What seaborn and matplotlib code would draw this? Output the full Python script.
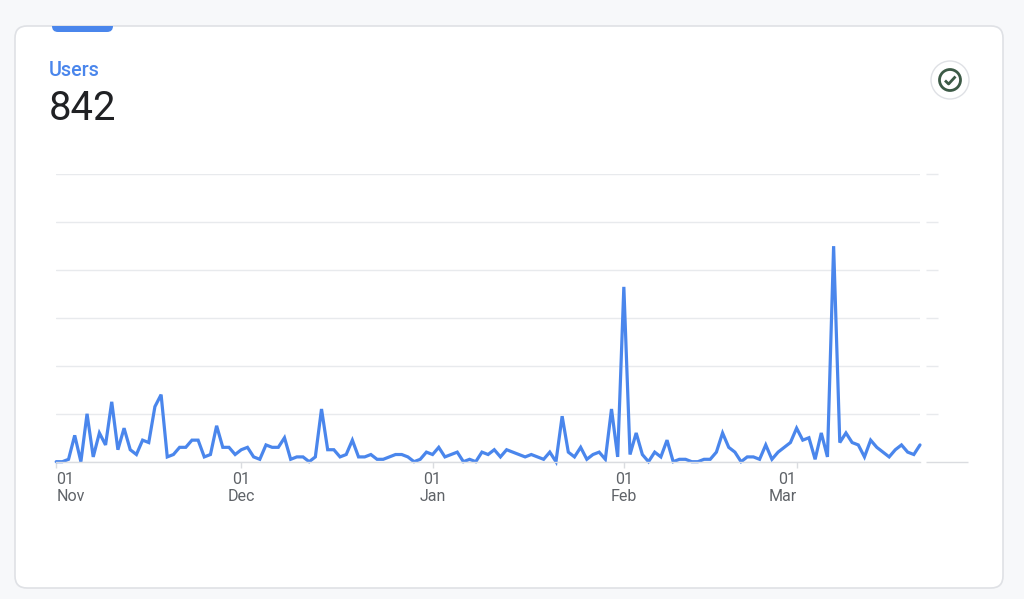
import pandas as pd
import matplotlib
matplotlib.use('Agg')
import matplotlib.pyplot as plt
import matplotlib.dates as mdates
from matplotlib.patches import FancyBboxPatch, Circle, Rectangle
import seaborn as sns

# daily users (one grid step = 20)
users = [0, 0, 1, 11, 0, 20, 2, 12, 7, 25, 5, 14, 5, 3, 9, 8, 23, 28, 2, 3,
         6, 6, 9, 9, 2, 3, 15, 6, 6, 3, 5, 6, 2, 1, 7, 6, 6, 10, 1, 2,
         2, 0, 2, 22, 5, 5, 2, 3, 9, 2, 2, 3, 1, 1, 2, 3, 3, 2, 0, 1,
         4, 3, 6, 2, 3, 4, 0, 1, 0, 4, 3, 5, 2, 5, 4, 3, 2, 3, 2, 1,
         4, 0, 19, 4, 2, 6, 1, 3, 4, 1, 22, 2, 73, 3, 12, 3, 0, 4, 2, 9,
         0, 1, 1, 0, 0, 1, 1, 4, 12, 6, 4, 0, 2, 2, 1, 7, 1, 4, 6, 8,
         14, 9, 10, 1, 12, 2, 90, 8, 12, 8, 7, 2, 9, 6, 4, 2, 5, 7, 4, 3, 7]
start_date = '2022-11-01'
month_ticks = ['2022-11-01', '2022-12-01', '2023-01-01', '2023-02-01', '2023-03-01']
month_labels = ['01\nNov', '01\nDec', '01\nJan', '01\nFeb', '01\nMar']
month_align = ['left', 'center', 'center', 'center', 'right']
grid_values = [0, 20, 40, 60, 80, 100, 120]

df = pd.DataFrame({'date': pd.date_range(start_date, periods=len(users)), 'users': users})

W, H = 1024, 599
BLUE = '#4a86ec'
GREEN = '#3c5a46'

sns.set_theme(style='white')
plt.rcParams['font.family'] = ['Roboto', 'DejaVu Sans']

fig = plt.figure(figsize=(W / 100, H / 100), dpi=100, facecolor='#f7f8fa')

# card and header, laid out in pixels
bg = fig.add_axes([0, 0, 1, 1])
bg.set_xlim(0, W)
bg.set_ylim(H, 0)
bg.axis('off')
bg.add_patch(FancyBboxPatch((15, 26), 988, 562, boxstyle='round,pad=0,rounding_size=12',
                            fc='white', ec='#dfe1e5', lw=1.2))
tab = FancyBboxPatch((52, 16), 61, 16, boxstyle='round,pad=0,rounding_size=6', fc=BLUE, ec='none')
bg.add_patch(tab)
tab.set_clip_path(Rectangle((40, 26), 90, 10, transform=bg.transData))
bg.text(49, 70, 'Users', color=BLUE, fontsize=14.2, fontweight='medium', va='center', ha='left')
bg.text(49, 108.5, '842', color='#202124', fontsize=28.8, va='center', ha='left')
bg.add_patch(Circle((950, 80), 19, fc='white', ec='#dfe1e5', lw=1))
bg.add_patch(Circle((950, 80), 10.5, fc='none', ec=GREEN, lw=2))
bg.plot([945, 948.6, 955.5], [80.5, 84, 76.5], color=GREEN, lw=2, solid_capstyle='butt')

# chart
plot_l, plot_r, plot_t, plot_b = 56.2, 920, 174.3, 461.7
ax = fig.add_axes([plot_l / W, 1 - plot_b / H, (plot_r - plot_l) / W, (plot_b - plot_t) / H])
ax.patch.set_alpha(0)
sns.lineplot(data=df, x='date', y='users', ax=ax, color=BLUE, linewidth=2.3,
             solid_joinstyle='miter', clip_on=False)
ax.set_xlim(df['date'].iloc[0], df['date'].iloc[-1])
ax.set_ylim(grid_values[0], grid_values[-1])
ax.set_xlabel('')
ax.set_ylabel('')

ax.set_yticks(grid_values)
ax.set_yticklabels([])
ax.tick_params(axis='y', length=0)
ax.grid(axis='y', color='#e8eaed', lw=1)
ax.set_axisbelow(True)
for name in ['top', 'right', 'left']:
    ax.spines[name].set_visible(False)
ax.spines['bottom'].set_color('#dadce0')
ax.spines['bottom'].set_linewidth(1)

# short stubs to the right of the plot, baseline one is longer
span = plot_r - plot_l
trans = ax.get_yaxis_transform()
ax.hlines(grid_values[1:], (926 - plot_l) / span, (938 - plot_l) / span, transform=trans,
          color='#e8eaed', lw=1, clip_on=False)
ax.hlines(grid_values[0], (926 - plot_l) / span, (968 - plot_l) / span, transform=trans,
          color='#dadce0', lw=1, clip_on=False)

ax.set_xticks([mdates.date2num(pd.Timestamp(d)) for d in month_ticks])
ax.set_xticklabels(month_labels)
ax.tick_params(axis='x', length=4, width=1, color='#dadce0', pad=3.5, labelsize=11.5,
               labelcolor='#5f6368', bottom=True)
for lab, al in zip(ax.get_xticklabels(), month_align):
    lab.set_ha(al)
    lab.set_multialignment(al)
    lab.set_linespacing(1.12)

fig.savefig('out.png', dpi=100, facecolor=fig.get_facecolor())
